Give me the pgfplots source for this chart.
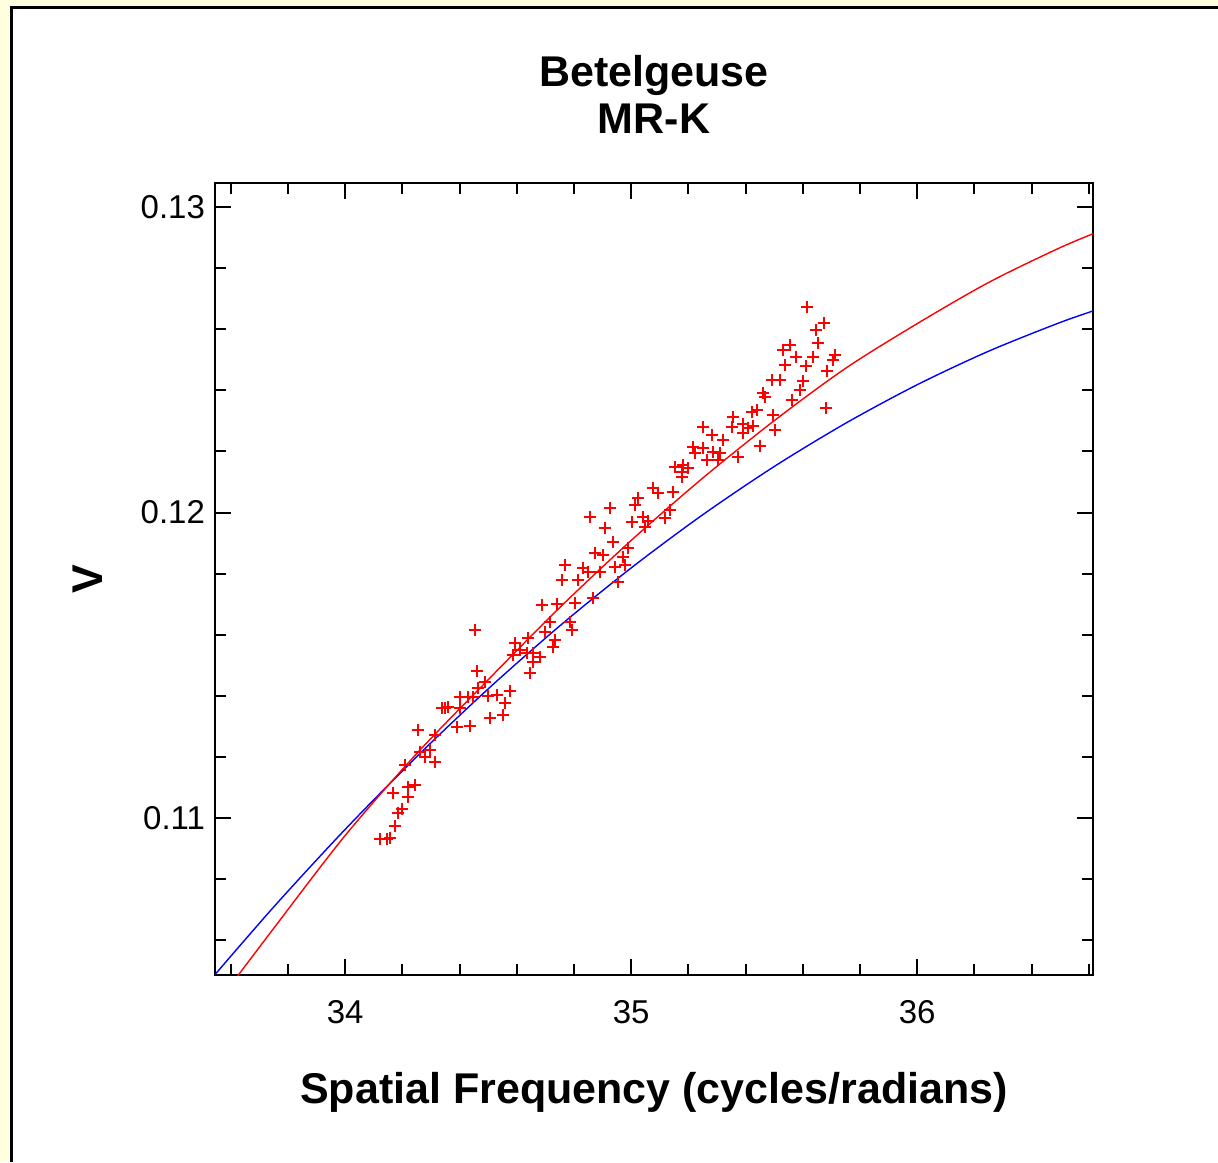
\documentclass[border=0pt]{standalone}
\usepackage{fontspec}
\setmainfont{Liberation Sans}
\usepackage{pgfplots}
\pgfplotsset{compat=1.18}
\definecolor{bgyellow}{RGB}{255,255,224}
\begin{document}
\begin{tikzpicture}
\fill[bgyellow] (-107.5pt,-93.5pt) rectangle (501.5pt,487.5pt);
\fill[white] (-101.5pt,-93.5pt) rectangle (501.5pt,483.5pt);
\draw[black, line width=1.5pt] (-101.5pt,-93.5pt) -- (-101.5pt,483.5pt) -- (501.5pt,483.5pt);
\begin{axis}[
  scale only axis, width=439pt, height=396pt,
  at={(0pt,0pt)}, anchor=south west,
  xmin=33.545, xmax=36.615, ymin=0.10486, ymax=0.13079,
  xtick={34,35,36}, ytick={0.11,0.12,0.13},
  minor xtick={33.6,33.8,34.2,34.4,34.6,34.8,35.2,35.4,35.6,35.8,36.2,36.4,36.6},
  minor ytick={0.106,0.108,0.112,0.114,0.116,0.118,0.122,0.124,0.126,0.128},
  major tick length=8pt, minor tick length=5.5pt,
  tick align=inside,
  tick style={line width=1pt, black},
  axis line style={line width=1pt},
  scaled y ticks=false,
  /pgf/number format/assume math mode=true,
  yticklabel style={/pgf/number format/fixed, /pgf/number format/precision=2, /pgf/number format/fixed zerofill},
  ticklabel style={font=\fontsize{16.5}{19}\selectfont},
  xticklabel style={anchor=base, yshift=-24pt},
  yticklabel style={anchor=east, xshift=-1.5pt},
  xlabel={Spatial Frequency (cycles/radians)},
  ylabel={V},
  label style={font=\fontsize{21.5}{26}\selectfont\bfseries},
  xlabel style={at={(axis description cs:0.5,-0.162)}, anchor=base},
  ylabel style={at={(axis description cs:-0.1276,0.5)}, anchor=base},
]
\addplot[blue, line width=0.7pt, smooth, no markers] coordinates {
(33.50,0.104385) (33.75,0.107085) (34.00,0.109626) (34.25,0.112006) (34.50,0.114226)
(34.75,0.116286) (35.00,0.118186) (35.25,0.119926) (35.50,0.121506) (35.75,0.122924)
(36.00,0.124184) (36.25,0.125283) (36.50,0.126223) (36.65,0.126708)
};
\addplot[red, line width=0.7pt, smooth, no markers] coordinates {
(33.50,0.103285) (33.75,0.106385) (34.00,0.109426) (34.25,0.112106) (34.50,0.114526)
(34.75,0.116886) (35.00,0.119086) (35.25,0.121126) (35.50,0.123006) (35.75,0.124724)
(36.00,0.126184) (36.25,0.127533) (36.50,0.128673) (36.65,0.129258)
};
\addplot[red, only marks, mark=+, mark size=3pt, mark options={line width=1.2pt}] coordinates {
(35.615,0.12673) (35.675,0.12620) (35.647,0.12597) (35.654,0.12555) (35.531,0.12532)
(35.556,0.12548) (35.577,0.12509) (35.636,0.12509) (35.713,0.12516) (35.706,0.12499)
(35.538,0.12483) (35.612,0.12480) (35.685,0.12463) (35.493,0.12434) (35.521,0.12434)
(35.601,0.12430) (35.591,0.12401) (35.462,0.12391) (35.469,0.12378) (35.563,0.12368)
(35.682,0.12342) (35.423,0.12329) (35.441,0.12336) (35.497,0.12319) (35.357,0.12313)
(35.353,0.12280) (35.392,0.12290) (35.409,0.12277) (35.427,0.12283) (35.392,0.12260)
(35.503,0.12270) (35.283,0.12254) (35.322,0.12237) (35.451,0.12218) (35.252,0.12211)
(35.287,0.12198) (35.311,0.12195) (35.266,0.12172) (35.304,0.12172) (35.374,0.12182)
(35.252,0.12280)
(35.217,0.12214) (35.224,0.12195) (35.154,0.12149) (35.182,0.12155) (35.199,0.12146)
(35.178,0.12133) (35.178,0.12116) (35.077,0.12080) (35.094,0.12064) (35.147,0.12067)
(35.024,0.12047) (35.014,0.12025) (35.136,0.12008) (34.927,0.12015) (34.857,0.11985)
(35.042,0.11985) (35.003,0.11969) (35.059,0.11972) (35.119,0.11982) (35.049,0.11953)
(34.909,0.11949) (34.937,0.11903) (34.990,0.11884) (34.972,0.11854) (34.874,0.11867)
(34.902,0.11861) (34.769,0.11828) (34.832,0.11818) (34.850,0.11805) (34.944,0.11822)
(34.979,0.11828) (34.892,0.11805) (34.815,0.11779) (34.759,0.11779) (34.955,0.11773)
(34.867,0.11720) (34.804,0.11704) (34.741,0.11700) (34.689,0.11697) (34.717,0.11642)
(34.787,0.11642) (34.794,0.11615) (34.699,0.11609) (34.734,0.11583) (34.727,0.11560)
(34.455,0.11615) (34.640,0.11589) (34.594,0.11573) (34.612,0.11550) (34.587,0.11534)
(34.636,0.11540) (34.657,0.11540) (34.682,0.11527) (34.657,0.11511) (34.647,0.11475)
(34.462,0.11481) (34.490,0.11445) (34.465,0.11426) (34.402,0.11396) (34.430,0.11396)
(34.448,0.11396) (34.500,0.11399) (34.531,0.11403) (34.577,0.11416) (34.559,0.11376)
(34.350,0.11360) (34.360,0.11363) (34.339,0.11360) (34.402,0.11360) (34.392,0.11298)
(34.437,0.11301) (34.507,0.11327) (34.552,0.11337) (34.255,0.11288) (34.315,0.11272)
(34.262,0.11216) (34.297,0.11223) (34.280,0.11200) (34.315,0.11183) (34.210,0.11173)
(34.245,0.11108) (34.220,0.11101) (34.168,0.11082) (34.220,0.11069) (34.199,0.11029)
(34.185,0.11016) (34.175,0.10974) (34.122,0.10931) (34.147,0.10931) (34.157,0.10935)
};
\end{axis}
\node[anchor=base, font=\fontsize{21.5}{24}\selectfont\bfseries] at (219.5pt,444pt) {Betelgeuse};
\node[anchor=base, font=\fontsize{21.5}{24}\selectfont\bfseries] at (219.5pt,420.5pt) {MR-K};
\pgfresetboundingbox
\path (-107.5pt,-93.5pt) rectangle (501.5pt,487.5pt);
\end{tikzpicture}
\end{document}
